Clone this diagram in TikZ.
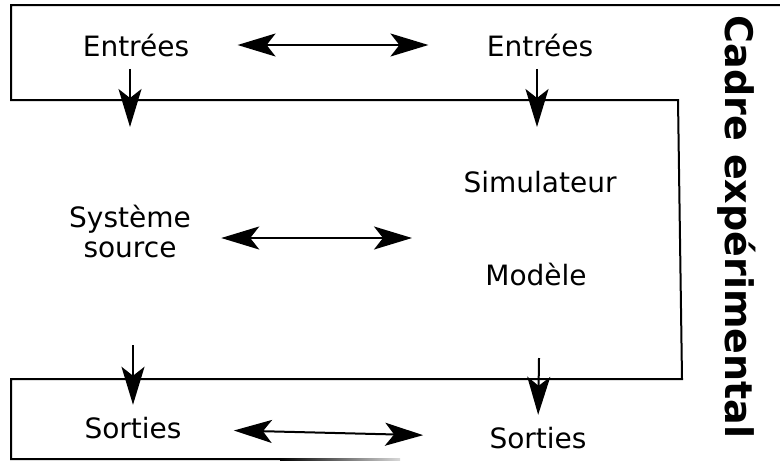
\documentclass[tikz,border=0pt]{standalone}
\usepackage{fontspec}
\setmainfont{DejaVu Sans}
\usetikzlibrary{arrows.meta, positioning}
\tikzset{
  lbl/.style={inner sep=0pt, font=\fontsize{14pt}{15pt}\selectfont, align=center},
  fleche/.style={line width=1pt, -{Stealth[length=19pt, width=11.5pt, inset=4.5pt]}},
  double/.style={line width=1pt, {Stealth[length=19pt, width=11.5pt, inset=4.5pt]}-{Stealth[length=19pt, width=11.5pt, inset=4.5pt]}},
  cadre/.style={line width=1pt}
}

\begin{document}
\begin{tikzpicture}[x=0.5pt, y=-0.5pt]
\useasboundingbox (0,0) rectangle (780,461);
%frame
\draw[cadre] (780,5) -- (11,5) -- (11,100) -- (678,100) -- (682,379) -- (11,379) -- (11,459) -- (280,459);
\shade[left color=black, right color=black!15] (280,458) rectangle (400,460);
\node[rotate=-90, inner sep=0pt, font=\bfseries\fontsize{19pt}{22pt}\selectfont] (titre) at (737,227) {Cadre expérimental};
%left column
\node[lbl] (entreeA) at (136,45) {Entrées};
\node[lbl] (systeme) at (130,231) {Système\\source};
\node[lbl] (sortieA) at (133,428) {Sorties};
%right column
\node[lbl] (entreeB) at (540,45) {Entrées};
\node[lbl] (simulateur) at (540,182) {Simulateur};
\node[lbl] (modele) at (536,274) {Modèle};
\node[lbl] (sortieB) at (538,438) {Sorties};
%arrows between
\coordinate (milieu) at (412,238);
\draw[double, shorten <=24pt, shorten >=29pt] (entreeA) -- (entreeB);
\draw[double, shorten <=15pt] (systeme.east |- milieu) -- (milieu);
\draw[double, shorten <=26pt, shorten >=33pt] (sortieA) -- (sortieB);
%down arrows
\coordinate (basA) at (130,127);
\coordinate (basB) at (537,127);
\coordinate (hautA) at (133,345);
\coordinate (hautB) at (539,358);
\draw[fleche, shorten <=6pt] (entreeA.south -| basA) -- (basA);
\draw[fleche, shorten <=6pt] (entreeB.south -| basB) -- (basB);
\draw[fleche, shorten >=6pt] (hautA) -- (sortieA.north);
\draw[fleche, shorten >=6pt] (hautB) -- (sortieB.north);
\end{tikzpicture}
\end{document}
